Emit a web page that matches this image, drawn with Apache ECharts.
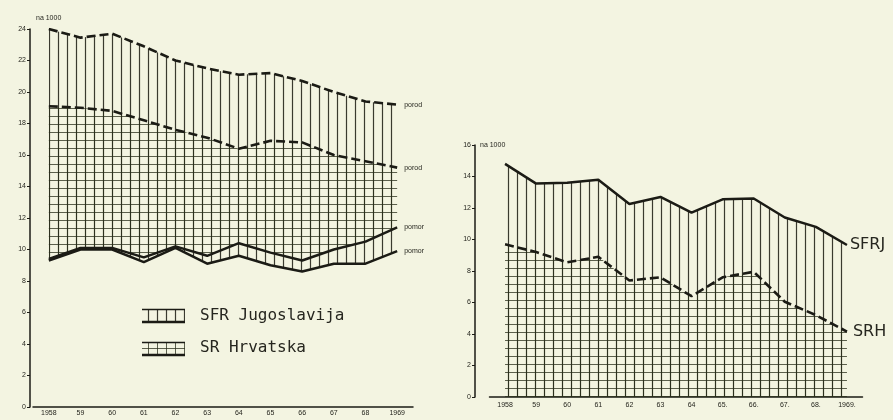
<!DOCTYPE html>
<html>
<head>
<meta charset="utf-8">
<script src="https://cdn.jsdelivr.net/npm/echarts@6/dist/echarts.min.js"></script>
<style>
html,body{margin:0;padding:0;background:#f3f4e1;}
#c{width:893px;height:420px;}
</style>
</head>
<body>
<div id="c"></div>
<script>
// ---- data ----
const leftYears = ['1958','59','60','61','62','63','64','65','66','67','68','1969'];
const rightYears = ['1958','59','60','61','62','63','64','65.','66.','67.','68.','1969.'];
// left chart: birth (porod) and death (pomor) rates per 1000
const birthSFRJ = [24.0, 23.45, 23.7, 22.9, 22.0, 21.5, 21.1, 21.2, 20.7, 20.0, 19.4, 19.2];
const birthSRH  = [19.1, 19.0, 18.8, 18.2, 17.6, 17.1, 16.4, 16.9, 16.8, 16.0, 15.6, 15.2];
const deathSFRJ = [9.3, 10.0, 10.0, 9.2, 10.1, 9.1, 9.6, 9.0, 8.6, 9.1, 9.1, 9.9];
const deathSRH  = [9.4, 10.1, 10.1, 9.5, 10.2, 9.6, 10.4, 9.8, 9.3, 10.0, 10.5, 11.4];
// right chart: natural increase per 1000
const incSFRJ = [14.8, 13.55, 13.6, 13.8, 12.25, 12.7, 11.7, 12.55, 12.6, 11.4, 10.8, 9.65];
const incSRH  = [9.7, 9.2, 8.55, 8.9, 7.4, 7.6, 6.4, 7.6, 7.95, 6.05, 5.2, 4.15];
const leftTicks = [0, 24, 2];   // min, max, interval
const rightTicks = [0, 16, 2];

// ---- hatch patterns ----
function makePattern(vert, horiz, w, h, color, lw) {
  const c = document.createElement('canvas');
  c.width = w; c.height = h;
  const ctx = c.getContext('2d');
  ctx.strokeStyle = color; ctx.lineWidth = lw;
  if (vert) { ctx.beginPath(); ctx.moveTo(4.5, 0); ctx.lineTo(4.5, h); ctx.stroke(); }
  if (horiz) { ctx.beginPath(); ctx.moveTo(0, 4.5); ctx.lineTo(w, 4.5); ctx.stroke(); }
  return c;
}
const vPat = {image: makePattern(true, false, 9, 9, 'rgba(25,25,15,0.85)', 1.2), repeat: 'repeat'};
const gPat = {image: makePattern(true, true, 9, 8, 'rgba(40,45,25,0.75)', 1), repeat: 'repeat'};

const ink = '#1b1b15';
const txt = '#26261f';
const diff = (a, b) => a.map((v, i) => +(v - b[i]).toFixed(2));

function endLab(text, size, dist) {
  return {show: true, formatter: () => text, fontSize: size, color: txt, distance: dist,
          fontFamily: size > 10 ? 'DejaVu Sans' : 'Liberation Sans'};
}
const solid = {color: ink, width: 2.5, type: 'solid'};
const dashed = {color: ink, width: 2.6, type: [9, 4]};

const chart = echarts.init(document.getElementById('c'), null, {renderer: 'canvas'});
const axisLabel = {fontSize: 7, color: txt, fontFamily: 'Liberation Sans'};
chart.setOption({
  backgroundColor: '#f3f4e1',
  animation: false,
  grid: [
    {left: 33, right: 480, top: 29, bottom: 13},
    {left: 489.5, right: 30.5, top: 145, bottom: 23}
  ],
  xAxis: [
    {type: 'category', gridIndex: 0, data: leftYears, boundaryGap: true,
     axisLine: {lineStyle: {color: ink, width: 1.5}}, axisTick: {length: 3, lineStyle: {color: ink}},
     axisLabel: Object.assign({margin: 3, interval: 0}, axisLabel)},
    {type: 'category', gridIndex: 1, data: rightYears, boundaryGap: true,
     axisLine: {lineStyle: {color: ink, width: 1.5}}, axisTick: {length: 3, lineStyle: {color: ink}},
     axisLabel: Object.assign({margin: 5, interval: 0}, axisLabel)}
  ],
  yAxis: [
    {type: 'value', gridIndex: 0, min: leftTicks[0], max: leftTicks[1], interval: leftTicks[2], offset: 3,
     name: 'na 1000', nameLocation: 'end', nameGap: 7,
     nameTextStyle: {fontSize: 7, color: txt, align: 'left', padding: [0, 0, 0, 6]},
     axisLine: {show: true, lineStyle: {color: ink, width: 1.5}}, axisTick: {show: true, length: 3, lineStyle: {color: ink}},
     splitLine: {show: false}, axisLabel: Object.assign({margin: 4}, axisLabel)},
    {type: 'value', gridIndex: 1, min: rightTicks[0], max: rightTicks[1], interval: rightTicks[2], offset: 14.5,
     name: 'na 1000', nameLocation: 'end', nameGap: -4,
     nameTextStyle: {fontSize: 7, color: txt, align: 'left', padding: [0, 0, 0, 5]},
     axisLine: {show: true, lineStyle: {color: ink, width: 1.5}}, axisTick: {show: true, length: 3, lineStyle: {color: ink}},
     splitLine: {show: false}, axisLabel: Object.assign({margin: 4}, axisLabel)}
  ],
  series: [
    {name: 'SFRJ pomor', type: 'line', xAxisIndex: 0, yAxisIndex: 0, stack: 'j', data: deathSFRJ,
     symbol: 'none', lineStyle: solid, endLabel: endLab('pomor', 7, 7), z: 3},
    {name: 'SFRJ porod', type: 'line', xAxisIndex: 0, yAxisIndex: 0, stack: 'j', data: diff(birthSFRJ, deathSFRJ),
     symbol: 'none', lineStyle: dashed, areaStyle: {color: vPat, opacity: 1}, endLabel: endLab('porod', 7, 7), z: 3},
    {name: 'SRH pomor', type: 'line', xAxisIndex: 0, yAxisIndex: 0, stack: 'h', data: deathSRH,
     symbol: 'none', lineStyle: solid, endLabel: endLab('pomor', 7, 7), z: 3},
    {name: 'SRH porod', type: 'line', xAxisIndex: 0, yAxisIndex: 0, stack: 'h', data: diff(birthSRH, deathSRH),
     symbol: 'none', lineStyle: dashed, areaStyle: {color: gPat, opacity: 1}, endLabel: endLab('porod', 7, 7), z: 3},
    {name: 'SFRJ', type: 'line', xAxisIndex: 1, yAxisIndex: 1, data: incSFRJ,
     symbol: 'none', lineStyle: solid, areaStyle: {color: vPat, opacity: 1}, endLabel: endLab('SFRJ', 16, 3), z: 3},
    {name: 'SRH', type: 'line', xAxisIndex: 1, yAxisIndex: 1, data: incSRH,
     symbol: 'none', lineStyle: dashed, areaStyle: {color: gPat, opacity: 1}, endLabel: endLab('SRH', 16, 6), z: 3}
  ],
  graphic: [
    // legend swatches
    {type: 'rect', shape: {x: 142, y: 309, width: 43, height: 13}, style: {fill: vPat, stroke: null}},
    {type: 'line', shape: {x1: 142, y1: 309.5, x2: 185, y2: 309.5}, style: {stroke: ink, lineWidth: 1.5}},
    {type: 'line', shape: {x1: 142, y1: 322, x2: 185, y2: 322}, style: {stroke: ink, lineWidth: 2.5}},
    {type: 'rect', shape: {x: 142, y: 342, width: 43, height: 13}, style: {fill: gPat, stroke: null}},
    {type: 'line', shape: {x1: 142, y1: 342.5, x2: 185, y2: 342.5}, style: {stroke: ink, lineWidth: 1.5}},
    {type: 'line', shape: {x1: 142, y1: 355, x2: 185, y2: 355}, style: {stroke: ink, lineWidth: 2.5}},
    {type: 'text', left: 200, top: 308, style: {text: 'SFR Jugoslavija', fontSize: 16, fill: txt, fontFamily: 'DejaVu Sans Mono'}},
    {type: 'text', left: 200, top: 340, style: {text: 'SR Hrvatska', fontSize: 16, fill: txt, fontFamily: 'DejaVu Sans Mono'}}
  ]
});
</script>
</body>
</html>
